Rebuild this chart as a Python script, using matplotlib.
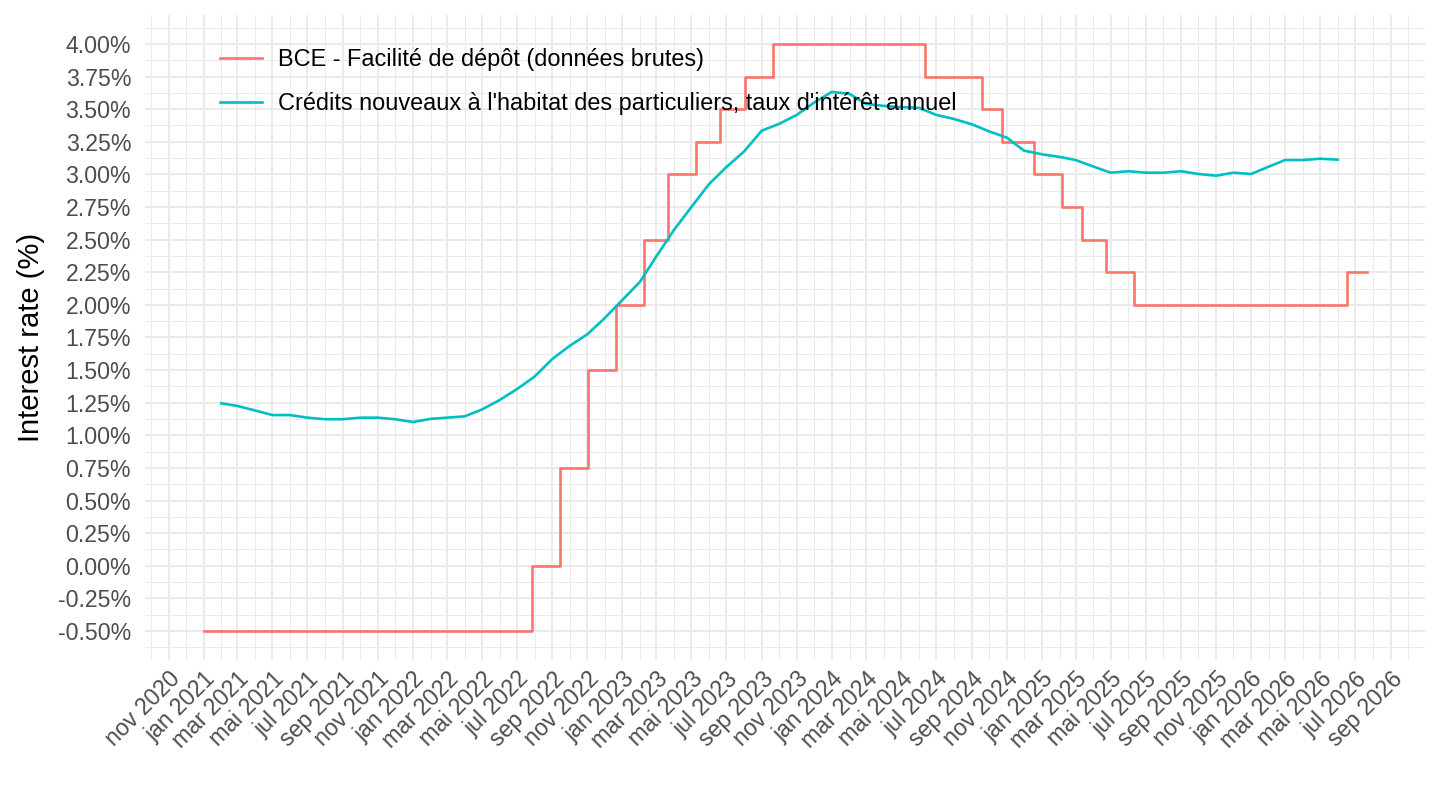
import numpy as np
import pandas as pd
import matplotlib
matplotlib.use('Agg')
import matplotlib.pyplot as plt
import matplotlib.dates as mdates
from matplotlib.ticker import FuncFormatter, MultipleLocator

plt.rcParams['font.family'] = ['Liberation Sans', 'DejaVu Sans']

# ECB deposit facility rate (step changes)
bce_dates = ['2021-01-01', '2022-07-27', '2022-09-14', '2022-11-02', '2022-12-21',
             '2023-02-08', '2023-03-22', '2023-05-10', '2023-06-21', '2023-08-02',
             '2023-09-20', '2024-06-12', '2024-09-18', '2024-10-23', '2024-12-18',
             '2025-02-05', '2025-03-12', '2025-04-23', '2025-06-11', '2026-06-17',
             '2026-07-21']
bce_rates = [-0.50, 0.00, 0.75, 1.50, 2.00,
             2.50, 3.00, 3.25, 3.50, 3.75,
             4.00, 3.75, 3.50, 3.25, 3.00,
             2.75, 2.50, 2.25, 2.00, 2.25,
             2.25]

# new housing loans, monthly, Feb 2021 -> Jun 2026
credit_start = '2021-02-01'
credit_rates = [1.245, 1.225, 1.19, 1.155, 1.155, 1.135, 1.123, 1.123, 1.135, 1.135, 1.123,
                1.102, 1.126, 1.135, 1.145, 1.197, 1.27, 1.353, 1.45, 1.585, 1.685, 1.774, 1.897,
                2.037, 2.178, 2.37, 2.574, 2.748, 2.925, 3.055, 3.175, 3.335, 3.387, 3.456, 3.55,
                3.632, 3.617, 3.54, 3.525, 3.515, 3.51, 3.456, 3.425, 3.384, 3.33, 3.282, 3.182,
                3.154, 3.134, 3.11, 3.06, 3.013, 3.024, 3.013, 3.013, 3.024, 3.003, 2.99, 3.013,
                3.003, 3.06, 3.11, 3.11, 3.12, 3.113]

series_labels = ["BCE - Facilité de dépôt (données brutes)",
                 "Crédits nouveaux à l'habitat des particuliers, taux d'intérêt annuel"]
month_labels = {1: 'jan', 3: 'mar', 5: 'mai', 7: 'jul', 9: 'sep', 11: 'nov'}

bce_x = pd.to_datetime(bce_dates)
credit_x = pd.date_range(credit_start, periods=len(credit_rates), freq='MS')

fig = plt.figure(figsize=(14.4, 8.1), dpi=100)
ax = fig.add_axes([0.1007, 0.1848, 0.8889, 0.7972])

ax.plot(bce_x, bce_rates, drawstyle='steps-post', color='#F8766D', lw=1.9, label=series_labels[0])
ax.plot(credit_x, credit_rates, color='#00BFC4', lw=1.9, label=series_labels[1])

ax.set_xlim(pd.Timestamp('2020-09-21'), pd.Timestamp('2026-10-31'))
ax.set_ylim(-0.725, 4.225)

ax.xaxis.set_major_locator(mdates.MonthLocator(bymonth=[1, 3, 5, 7, 9, 11]))
ax.xaxis.set_minor_locator(mdates.MonthLocator(bymonth=[2, 4, 6, 8, 10, 12]))
ax.xaxis.set_major_formatter(FuncFormatter(
    lambda v, p: f"{month_labels[mdates.num2date(v).month]} {mdates.num2date(v).year}"))
ax.yaxis.set_major_locator(MultipleLocator(0.25))
ax.yaxis.set_minor_locator(MultipleLocator(0.125))
ax.yaxis.set_major_formatter(FuncFormatter(lambda v, p: f"{v:.2f}%"))

ax.grid(which='major', color='#EBEBEB', lw=1.4)
ax.grid(which='minor', color='#EBEBEB', lw=0.7)
ax.set_axisbelow(True)
for s in ax.spines.values():
    s.set_visible(False)

ax.tick_params(which='both', length=0)
ax.tick_params(axis='y', labelsize=16.7, labelcolor='#4D4D4D', pad=10)
ax.tick_params(axis='x', labelsize=16.7, labelcolor='#4D4D4D', pad=5)
for lab in ax.get_xticklabels():
    lab.set_rotation(45)
    lab.set_ha('right')
    lab.set_va('top')
    lab.set_rotation_mode('anchor')

ax.set_ylabel('Interest rate (%)', fontsize=21, color='black', labelpad=9)

ax.legend(loc='upper left', bbox_to_anchor=(0.0586, 0.948), frameon=False,
          fontsize=16.9, handlelength=1.8, handletextpad=0.65, labelspacing=0.9,
          borderpad=0, borderaxespad=0)

fig.savefig('out.png', dpi=100)
